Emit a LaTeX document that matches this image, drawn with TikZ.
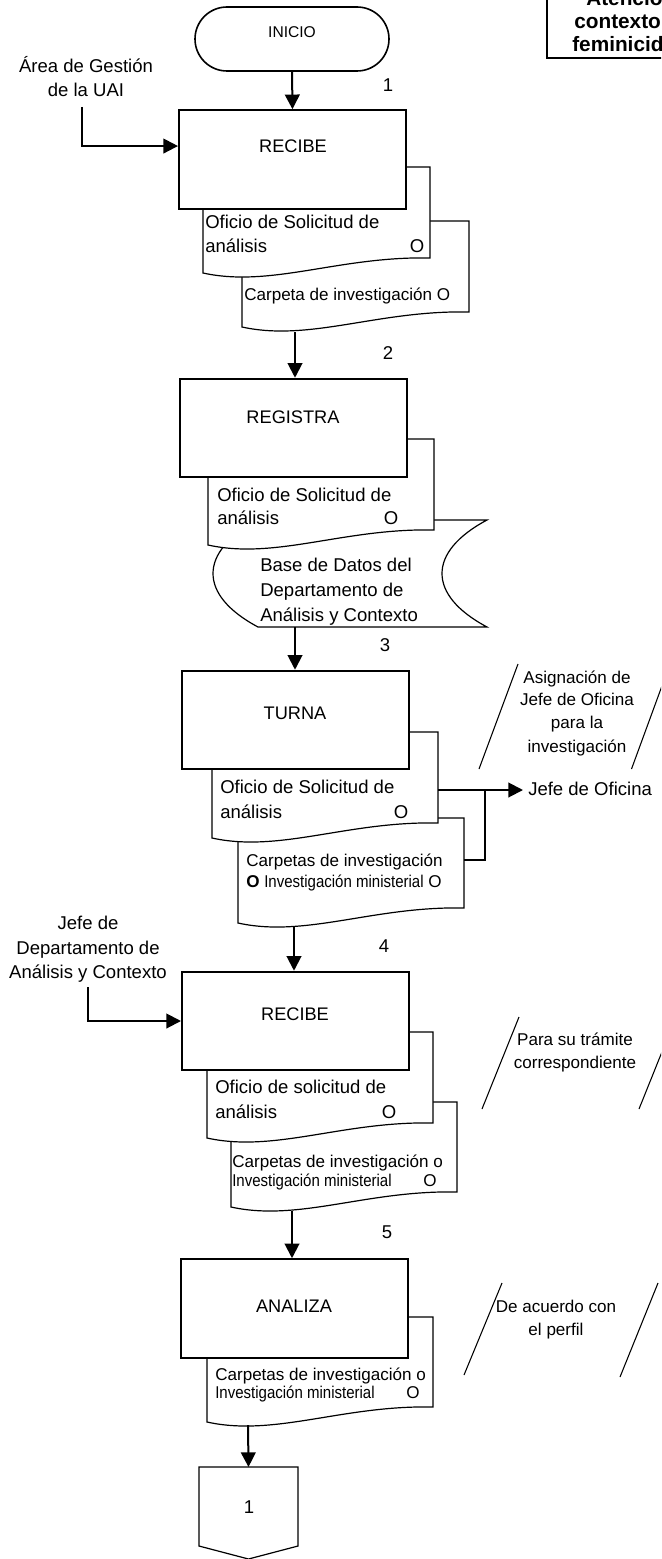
\documentclass[tikz,border=0pt]{standalone}
\usepackage{fontspec}
\setmainfont{Liberation Sans}
\usepackage{graphicx}
\usetikzlibrary{arrows.meta}
\newcommand\ftM{\fontsize{13.9}{16}\selectfont}
\newcommand\ftT{\fontsize{13.65}{16}\selectfont}
\newcommand\ftS{\fontsize{12.8}{15}\selectfont}
\newcommand\ftI{\fontsize{11.7}{14}\selectfont}
\newcommand\ftB{\fontsize{15.6}{18}\selectfont\bfseries}
\newcommand\cond[1]{\scalebox{0.88}[1]{#1}}
\newcommand\docshape[4]{\draw[docline] (#1,#2) -- (#3,#2) -- (#3,#4) .. controls ({#1+0.6*(#3-#1)},{#4-2}) and ({#1+0.3*(#3-#1)},{#4+30}) .. (#1,{#4+15}) -- cycle;}
\begin{document}
\begin{tikzpicture}[x=0.75pt,y=-0.75pt,
  procbox/.style={draw,line width=1.5pt,fill=white,minimum width=170.25pt,minimum height=73.9pt,inner sep=0pt},
  termbox/.style={draw,line width=1.2pt,rounded corners=24pt,minimum width=145.5pt,minimum height=48pt,inner sep=0pt},
  docline/.style={draw,fill=white,line width=0.9pt},
  arr/.style={line width=1.5pt,-{Triangle[length=11pt,width=11pt]}},
  thinline/.style={line width=0.8pt},
  tx/.style={inner sep=0pt,anchor=base west,font=\ftM},
  txc/.style={inner sep=0pt,anchor=base,font=\ftM},
  sx/.style={inner sep=0pt,anchor=base west,font=\ftS},
  sxc/.style={inner sep=0pt,anchor=base,font=\ftS},
  ttl/.style={inner sep=0pt,anchor=base,font=\ftT},
  bx/.style={inner sep=0pt,anchor=base west,font=\ftB}]
\useasboundingbox (0,0) rectangle (661,1559);
\clip (0,0) rectangle (661,1559);

% top-right title box (cut by the page edge)
\draw[line width=1.1pt] (547,-10) rectangle (680,58);
\node[bx] (tr1) at (586,6) {Atención};
\node[bx] (tr2) at (574,29) {contexto};
\node[bx] (tr3) at (572,52) {feminicidio};

% INICIO
\node[termbox] (ini) at (292,39) {};
\node[txc,font=\ftI] (iniT) at (292,37.5) {INICIO};

% step 1
\node[txc] (la1) at (86,73) {Área de Gestión};
\node[txc] (la2) at (86,97) {de la UAI};
\coordinate (in1) at (82,107);
\node[txc] (n1) at (388,91.5) {1};
\docshape{242}{221}{469}{312}
\docshape{203}{167}{430}{258}
\node[procbox] (b1) at (292.5,159.5) {};
\node[ttl] (b1t) at (293,152.5) {RECIBE};
\node[tx] (d1a) at (205,228) {Oficio de Solicitud de};
\node[tx] (d1b) at (205,252) {análisis};
\node[txc] (d1o) at (417,252) {O};
\node[sx] (d1c) at (244,300.5) {Carpeta de investigación O};
\coordinate (e1) at (295,332);
\draw[arr] (ini.south) -- (b1.north);
\draw[arr] (in1) |- ([yshift=10.1pt]b1.west);

% step 2
\node[txc] (n2) at (388,359.5) {2};
\draw[docline] (258,520) -- (487,520) .. controls (427,552) and (427,595) .. (487,627) -- (258,627) .. controls (198,595) and (198,552) .. (258,520) -- cycle;
\docshape{208}{439}{434}{530}
\node[procbox] (b2) at (293.5,428) {};
\node[ttl] (b2t) at (293,423.5) {REGISTRA};
\node[tx] (d2a) at (217,501) {Oficio de Solicitud de};
\node[tx] (d2b) at (217,524) {análisis};
\node[txc] (d2o) at (391,524) {O};
\node[tx] (db1) at (260,571) {Base de Datos del};
\node[tx] (db2) at (260,596) {Departamento de};
\node[tx] (db3) at (260,621) {Análisis y Contexto};
\coordinate (e2) at (295,627);
\draw[arr] (e1) -- (e1 |- b2.north);

% step 3
\node[txc] (n3) at (385,651) {3};
\docshape{238}{818}{464}{908}
\docshape{212}{732}{438}{823}
\node[procbox] (b3) at (295.5,720) {};
\node[ttl] (b3t) at (295,719.5) {TURNA};
\node[tx] (d3a) at (220,793) {Oficio de Solicitud de};
\node[tx] (d3b) at (220,818) {análisis};
\node[txc] (d3o) at (401,818) {O};
\node[sx] (d3c) at (246,866.5) {Carpetas de investigación};
\node[sx] (d3d) at (246,887.5) {\textbf{O} \cond{Investigación ministerial} O};
\draw[arr] (e2) -- (e2 |- b3.north);
\node[tx] (jefe) at (528,795) {Jefe de Oficina};
\coordinate (s3) at (438,790);
\coordinate (s3b) at (464,860);
\draw[arr,shorten >=3.75pt] (s3) -- (s3 -| jefe.west);
\draw[thinline] (s3b) -| (485,790);
\draw[thinline] (518,664) -- (479,769);
\draw[thinline] (670,664) -- (631.5,769);
\node[sxc] (a1a) at (577,683.5) {Asignación de};
\node[sxc] (a1b) at (577,705.5) {Jefe de Oficina};
\node[sxc] (a1c) at (577,728.5) {para la};
\node[sxc] (a1d) at (577,752.5) {investigación};
\coordinate (e3) at (294,927);

% step 4
\node[txc] (n4) at (384,952.5) {4};
\node[txc] (lb1) at (88,929) {Jefe de};
\node[txc] (lb2) at (88,954) {Departamento de};
\node[txc] (lb3) at (88,978) {Análisis y Contexto};
\coordinate (in4) at (88,987);
\docshape{231}{1102}{457}{1192}
\docshape{207}{1032}{433}{1123}
\node[procbox] (b4) at (295.5,1021) {};
\node[ttl] (b4t) at (295,1020.5) {RECIBE};
\node[tx] (d4a) at (215,1093) {Oficio de solicitud de};
\node[tx] (d4b) at (215,1118) {análisis};
\node[txc] (d4o) at (389,1118) {O};
\node[sx] (d4c) at (232,1167.5) {Carpetas de investigación o};
\node[sx] (d4d) at (232,1186.5) {\cond{Investigación ministerial}};
\node[sxc] (d4o2) at (430,1186.5) {O};
\draw[arr] (e3) -- (e3 |- b4.north);
\draw[arr] (in4) |- (b4.west);
\draw[thinline] (519,1017) -- (482,1109);
\draw[thinline] (676,1017) -- (639,1109);
\node[sxc] (a2a) at (575,1045.5) {Para su trámite};
\node[sxc] (a2b) at (575,1068.5) {correspondiente};
\coordinate (e4) at (292,1211);

% step 5
\node[txc] (n5) at (387,1238.5) {5};
\docshape{207}{1317}{433}{1407}
\node[procbox] (b5) at (294.5,1308.5) {};
\node[ttl] (b5t) at (294,1312.5) {ANALIZA};
\node[sx] (d5c) at (215,1380.5) {Carpetas de investigación o};
\node[sx] (d5d) at (215,1398.5) {\cond{Investigación ministerial}};
\node[sxc] (d5o) at (413,1398.5) {O};
\draw[arr] (e4) -- (e4 |- b5.north);
\draw[thinline] (502,1283) -- (464,1375);
\draw[thinline] (658,1283) -- (620,1377);
\node[sxc] (a3a) at (556,1312.5) {De acuerdo con};
\node[sxc] (a3b) at (556,1335.5) {el perfil};
\coordinate (e5) at (248,1425);

% off-page connector
\coordinate (conn) at (248.5,1467);
\draw[line width=0.9pt] (199,1467) -- (298,1467) -- (298,1546) -- (248.5,1559) -- (199,1546) -- cycle;
\node[txc] (connT) at (249,1513.5) {1};
\draw[arr] (e5) -- (conn);
\end{tikzpicture}
\end{document}
